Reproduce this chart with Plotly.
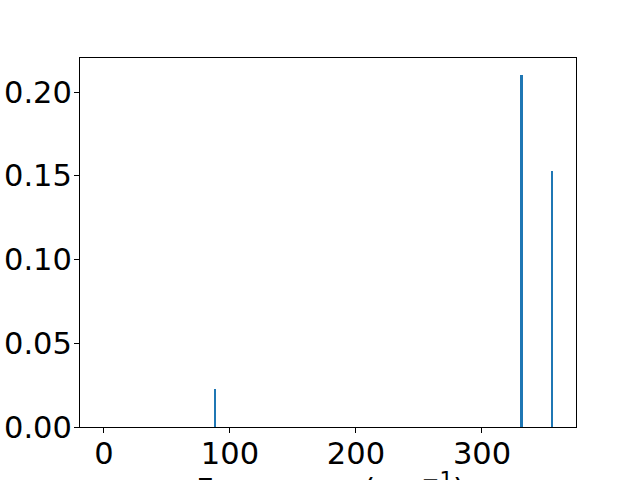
import plotly.graph_objects as go

frequencies = [0.0, 88.0, 331.0, 355.5]
intensities = [0.0, 0.0227, 0.210, 0.153]
bar_widths = [1.6, 1.6, 2.4, 1.6]
x_tick_vals = [0, 100, 200, 300]
y_tick_vals = [0.00, 0.05, 0.10, 0.15, 0.20]
y_tick_text = ["0.00", "0.05", "0.10", "0.15", "0.20"]
x_title = "Frequency (cm<sup>−1</sup>)"

fig = go.Figure()
fig.add_trace(go.Bar(x=frequencies, y=intensities, width=bar_widths,
                     marker=dict(color="#1f77b4", line=dict(width=0))))

font = dict(family="DejaVu Sans", size=30.5, color="black")
fig.update_layout(
    width=640, height=480,
    margin=dict(l=80, r=64, t=58, b=53, pad=0),
    paper_bgcolor="white", plot_bgcolor="white",
    font=font, showlegend=False, bargap=0,
)
fig.update_xaxes(
    range=[-19, 374.6], tickvals=x_tick_vals, ticks="outside", ticklen=5,
    tickwidth=1, tickcolor="black", showline=True, linecolor="black",
    linewidth=1, mirror=True, showgrid=False, zeroline=False, automargin=False,
    ticklabelstandoff=-6,
)
fig.update_yaxes(
    range=[0, 0.2203], tickvals=y_tick_vals, ticktext=y_tick_text,
    ticks="outside", ticklen=5, tickwidth=1, tickcolor="black",
    showline=True, linecolor="black", linewidth=1, mirror=True,
    showgrid=False, zeroline=False, automargin=False,
    ticklabelstandoff=-4,
)
fig.add_annotation(
    text=x_title, xref="paper", yref="paper", x=0.505, y=-0.103,
    xanchor="center", yanchor="top", showarrow=False, font=font,
)
fig.write_html(
    "out.html",
    config={"displayModeBar": False},
    post_script="document.body.style.margin='0';document.body.style.overflow='hidden';",
)
